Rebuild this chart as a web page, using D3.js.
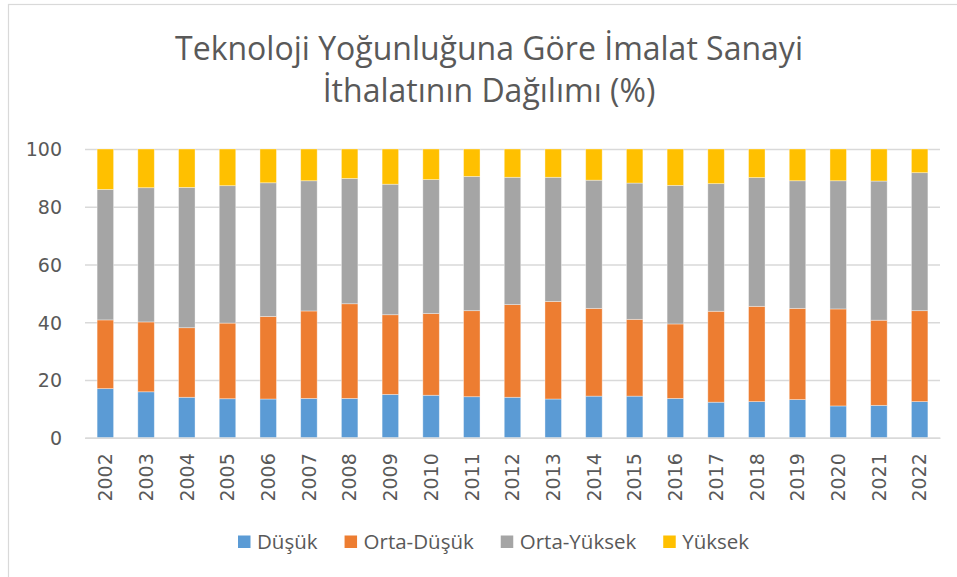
<!DOCTYPE html>
<html>
<head>
<meta charset="utf-8">
<script src="https://cdn.jsdelivr.net/npm/d3@7"></script>
<style>
  html, body { margin: 0; padding: 0; background: #fff; }
  svg { display: block; }
</style>
</head>
<body>
<svg id="chart" width="957" height="577"></svg>
<script>
const titleLines = ["Teknoloji Yoğunluğuna Göre İmalat Sanayi", "İthalatının Dağılımı (%)"];
const years = ["2002","2003","2004","2005","2006","2007","2008","2009","2010","2011","2012","2013","2014","2015","2016","2017","2018","2019","2020","2021","2022"];
const seriesNames = ["Düşük", "Orta-Düşük", "Orta-Yüksek", "Yüksek"];
const dusuk      = [17.0, 15.9, 14.0, 13.5, 13.4, 13.6, 13.6, 15.0, 14.7, 14.2, 14.0, 13.4, 14.4, 14.4, 13.6, 12.3, 12.5, 13.2, 11.0, 11.2, 12.5];
const ortaDusuk  = [23.8, 24.2, 24.1, 26.2, 28.6, 30.3, 32.8, 27.6, 28.3, 29.8, 32.1, 33.8, 30.4, 26.6, 25.8, 31.5, 33.0, 31.6, 33.6, 29.5, 31.5];
const ortaYuksek = [45.2, 46.5, 48.6, 47.6, 46.3, 45.1, 43.4, 45.2, 46.4, 46.5, 44.1, 43.0, 44.4, 47.2, 48.0, 44.2, 44.6, 44.2, 44.4, 48.2, 47.8];
const yuksek     = [14.0, 13.4, 13.3, 12.7, 11.7, 11.0, 10.2, 12.2, 10.6,  9.5,  9.8,  9.8, 10.8, 11.8, 12.6, 12.0,  9.9, 11.0, 11.0, 11.1,  8.2];
const yTicks = [0, 20, 40, 60, 80, 100];
const colors = ["#5b9bd5", "#ed7d31", "#a5a5a5", "#ffc000"];

const seriesValues = [dusuk, ortaDusuk, ortaYuksek, yuksek];
const table = years.map((yr, i) => {
  const row = { year: yr };
  seriesNames.forEach((s, k) => { row[s] = seriesValues[k][i]; });
  return row;
});

const svg = d3.select("#chart");
const textColor = "#595959";
const gridColor = "#d9d9d9";
const tickFont = "'DejaVu Sans', sans-serif";
const bodyFont = "'Open Sans', 'Noto Sans', sans-serif";

// chart frame
svg.append("rect")
  .attr("x", 8.5).attr("y", 4.5)
  .attr("width", 1000).attr("height", 700)
  .attr("fill", "#fff").attr("stroke", gridColor).attr("stroke-width", 1.2);

const plot = { left: 85, right: 940, top: 149, bottom: 437.7 };

const x = d3.scaleBand()
  .domain(years)
  .range([plot.left, plot.right])
  .paddingInner(0.595)
  .paddingOuter(0.2975);

const y = d3.scaleLinear().domain([0, 100]).range([plot.bottom, plot.top]);

// gridlines
const yAxis = d3.axisLeft(y).tickValues(yTicks).tickSize(-(plot.right - plot.left)).tickPadding(23);
const gy = svg.append("g").attr("transform", `translate(${plot.left},0)`).call(yAxis);
gy.select(".domain").remove();
gy.selectAll(".tick line").attr("stroke", gridColor).attr("stroke-width", 1.5);
gy.selectAll(".tick text")
  .attr("fill", textColor)
  .style("font-family", tickFont)
  .style("font-size", "19px")
  .attr("x", 62 - plot.left)
  .attr("dy", "0.36em");

// stacked bars
const stack = d3.stack().keys(seriesNames);
const stacked = stack(table);

svg.append("g").selectAll("g")
  .data(stacked)
  .join("g")
  .attr("fill", (d, i) => colors[i])
  .selectAll("rect")
  .data(d => d)
  .join("rect")
  .attr("x", d => x(d.data.year))
  .attr("width", x.bandwidth())
  .attr("y", d => y(d[1]))
  .attr("height", d => y(d[0]) - y(d[1]))
  .attr("stroke", "#ffffff")
  .attr("stroke-opacity", 0.45)
  .attr("stroke-width", 0.8);

// x axis baseline
const xAxis = d3.axisBottom(x).tickSize(0).tickPadding(0);
const gx = svg.append("g").attr("transform", `translate(0,${plot.bottom})`).call(xAxis);
gx.select(".domain").attr("stroke", gridColor).attr("stroke-width", 1.5);
gx.selectAll(".tick text")
  .attr("fill", textColor)
  .style("font-family", tickFont)
  .style("font-size", "19px")
  .attr("text-anchor", "end")
  .attr("transform", "rotate(-90)")
  .attr("x", -15.5)
  .attr("y", 0)
  .attr("dy", "0.36em");

// title
const title = svg.append("g");
titleLines.forEach((t, i) => {
  title.append("text")
    .attr("x", 489)
    .attr("y", 60 + i * 42)
    .attr("text-anchor", "middle")
    .attr("fill", textColor)
    .style("font-family", bodyFont)
    .style("font-size", "32px")
    .text(t);
});

// legend
const legend = svg.append("g");
let lx = 238;
seriesNames.forEach((name, i) => {
  legend.append("rect")
    .attr("x", lx).attr("y", 535.5)
    .attr("width", 12.5).attr("height", 12.5)
    .attr("fill", colors[i]);
  const t = legend.append("text")
    .attr("x", lx + 19)
    .attr("y", 548.5)
    .attr("fill", textColor)
    .style("font-family", bodyFont)
    .style("font-size", "20.5px")
    .text(name);
  const w = t.node().getComputedTextLength();
  lx = lx + 19 + w + 27;
});
</script>
</body>
</html>
